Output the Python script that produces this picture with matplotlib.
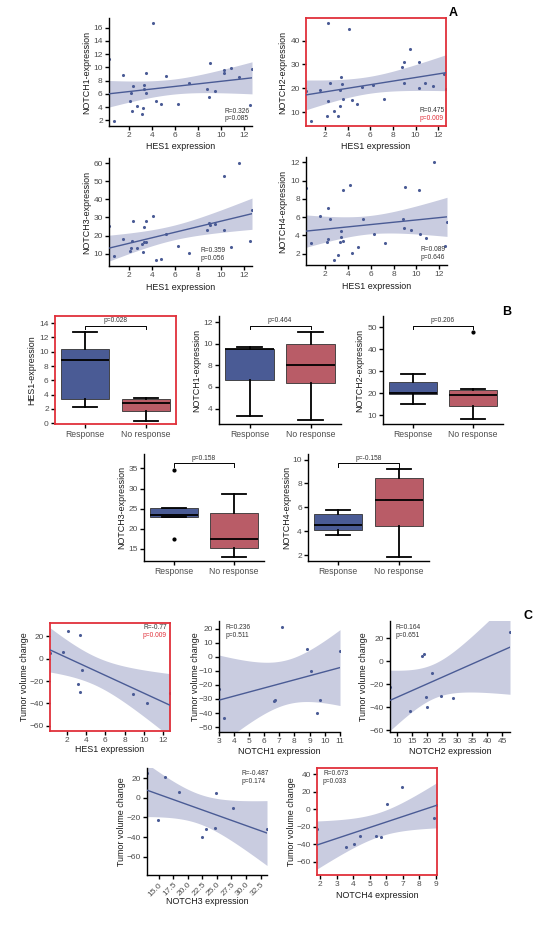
import numpy as np
import matplotlib
matplotlib.use('Agg')
import matplotlib.pyplot as plt
from matplotlib import transforms

plt.rcParams['font.family'] = ['Liberation Sans Narrow', 'Liberation Sans', 'DejaVu Sans']

W, H = 538, 949
BLUE = '#4a5b95'
BAND = '#c9cce0'
RED_BOX = '#b95c67'
RED = '#e0303a'
TICK_COL = '#4d4d4d'

# ---------------- panel A: gene expression vs HES1 (30 patients)
hes1 = [0.3, 0.75, 1.52, 2.12, 2.24, 2.27, 2.42, 2.77, 3.13, 3.28, 3.34, 3.37, 3.52, 3.55, 4.14,
        4.38, 4.83, 5.27, 6.26, 7.24, 8.82, 8.96, 9.02, 9.5, 10.27, 10.3, 10.87, 11.58, 12.5, 12.7]
notch1 = [11.2, 1.9, 8.9, 5.0, 6.2, 3.4, 7.2, 4.1, 3.0, 3.8, 7.3, 6.8, 9.2, 6.1, 16.7,
          5.0, 4.5, 8.7, 4.5, 7.7, 6.7, 5.6, 10.6, 6.5, 9.2, 9.6, 9.9, 8.5, 4.3, 9.8]
notch2 = [18.9, 6.2, 19.4, 8.3, 47.4, 14.8, 22.3, 10.4, 8.2, 19.2, 12.4, 24.8, 21.7, 15.5, 45.0,
          14.9, 13.4, 20.6, 21.2, 15.5, 28.7, 30.9, 22.1, 36.4, 30.8, 20.2, 22.1, 20.8, 25.8, 19.8]
notch3 = [25.0, 8.4, 18.3, 11.3, 13.1, 17.2, 28.1, 13.1, 15.1, 11.1, 24.9, 16.2, 28.3, 16.2, 30.7,
          6.7, 7.1, 20.9, 14.2, 10.4, 23.2, 26.8, 25.6, 26.5, 53.1, 22.9, 13.8, 60.2, 16.9, 34.3]
notch4 = [9.14, 3.2, 6.1, 3.23, 7.04, 3.63, 5.8, 1.28, 1.82, 3.3, 3.85, 4.5, 8.92, 3.34, 9.54,
          2.04, 2.76, 5.73, 4.17, 3.2, 5.77, 4.83, 9.32, 4.54, 8.96, 4.1, 3.7, 12.04, 2.87, 5.4]
a_r = ['R=0.326', 'R=0.475', 'R=0.359', 'R=0.089']
a_p = ['p=0.085', 'p=0.009', 'p=0.056', 'p=0.646']

# ---------------- panel B: box summaries (whisker low, q1, median, q3, whisker high)
groups = ['Response', 'No response']
b_genes = ['HES1', 'NOTCH1', 'NOTCH2', 'NOTCH3', 'NOTCH4']
resp_box = [[2.26, 3.37, 8.87, 10.4, 12.75],
            [3.31, 6.62, 9.5, 9.56, 9.72],
            [15.0, 19.8, 20.0, 25.2, 29.0],
            [22.85, 22.85, 23.4, 25.2, 25.2],
            [3.67, 4.11, 4.5, 5.42, 5.75]]
nores_box = [[0.32, 1.66, 2.77, 3.37, 3.6],
             [2.94, 6.34, 8.03, 9.97, 11.12],
             [8.3, 14.1, 19.1, 21.6, 22.1],
             [12.93, 15.33, 17.48, 23.84, 28.55],
             [1.83, 4.42, 6.58, 8.47, 9.17]]
resp_out = [[], [], [], [34.5, 17.4], []]
nores_out = [[], [], [47.7], [], []]
b_pvals = ['p=0.028', 'p=0.464', 'p=0.206', 'p=0.158', 'p=-0.158']

# ---------------- panel C: tumour volume change vs expression (10 patients)
c_hes1 = [0.26, 1.58, 2.1, 3.18, 3.35, 3.39, 3.56, 8.84, 10.3, 12.7]
c_tum_hes1 = [4.8, 6.0, 25.0, -22.2, 21.0, -29.7, -9.9, -31.5, -39.6, -30.3]
c_notch1 = [3.0, 3.32, 6.65, 6.74, 7.17, 8.81, 9.08, 9.49, 9.67, 11.02]
c_tum_notch1 = [-22.8, -43.4, -31.8, -30.4, 21.0, 5.3, -10.3, -39.8, -30.9, 4.3]
c_notch2 = [7.54, 14.36, 18.16, 18.8, 19.5, 19.8, 21.4, 24.4, 28.5, 47.5]
c_tum_notch2 = [-22.3, -43.5, 4.6, 5.8, -30.7, -40.0, -10.1, -30.4, -31.9, 25.4]
c_notch3 = [13.0, 14.9, 16.1, 18.45, 22.5, 23.1, 24.6, 24.8, 27.8, 33.6]
c_tum_notch3 = [25.1, -22.7, 20.6, 5.8, -40.0, -32.2, -30.5, 4.4, -10.5, -31.5]
c_notch4 = [1.8, 3.59, 4.04, 4.4, 5.36, 5.69, 6.03, 6.99, 8.88, 9.09]
c_tum_notch4 = [-22.9, -43.5, -39.7, -30.1, -30.5, -32.1, 5.8, 25.4, -10.2, 5.1]
c_r = ['R=-0.77', 'R=0.236', 'R=0.164', 'R=-0.487', 'R=0.673']
c_p = ['p=0.009', 'p=0.511', 'p=0.651', 'p=0.174', 'p=0.033']
c_ylims = [(-64.8, 32.1), (-53.5, 25.4), (-61.4, 34.8), (-78.6, 30.2), (-75.3, 47.2)]

T95 = {8: 2.306, 28: 2.048}

fig = plt.figure(figsize=(W / 100, H / 100), dpi=100)


def ax_at(x0, y0, x1, y1):
    return fig.add_axes([x0 / W, 1 - y1 / H, (x1 - x0) / W, (y1 - y0) / H])


def style(ax, red=False):
    for s in ax.spines.values():
        s.set_linewidth(1.0)
    if red:
        for s in ax.spines.values():
            s.set_color(RED)
            s.set_linewidth(1.3)
    else:
        ax.spines['top'].set_visible(False)
        ax.spines['right'].set_visible(False)
    ax.tick_params(length=3, width=1.0, color='black', labelsize=6, labelcolor=TICK_COL, pad=1.5)


def set_labels(ax, box, xlabel, ylabel, xl_y, yl_x):
    x0, y0, x1, y1 = box
    ax.set_xlabel(xlabel, fontsize=6.4, color='#1a1a1a')
    ax.set_ylabel(ylabel, fontsize=6.4, color='#1a1a1a')
    ax.xaxis.set_label_coords(0.5, (y1 - xl_y) / (y1 - y0))
    ax.xaxis.label.set_va('center')
    ax.yaxis.set_label_coords((yl_x - x0) / (x1 - x0), 0.5)
    ax.yaxis.label.set_va('center')


def fit_band(x, y):
    x = np.asarray(x, float)
    y = np.asarray(y, float)
    n = len(x)
    b, a = np.polyfit(x, y, 1)
    xs = np.linspace(x.min(), x.max(), 100)
    yh = a + b * xs
    s = np.sqrt(np.sum((y - (a + b * x)) ** 2) / (n - 2))
    se = s * np.sqrt(1 / n + (xs - x.mean()) ** 2 / np.sum((x - x.mean()) ** 2))
    t = T95[n - 2]
    return xs, yh, yh - t * se, yh + t * se


def scatter_panel(box, x, y, xlabel, ylabel, xticks, yticks, xl_y, yl_x,
                  rtxt, ptxt, txt_xy, red=False, pred=False, rot=False, ylim=None):
    ax = ax_at(*box)
    xs, yh, lo, hi = fit_band(x, y)
    ax.fill_between(xs, lo, hi, color=BAND, lw=0, zorder=1)
    ax.plot(xs, yh, color=BLUE, lw=1.0, zorder=3)
    ax.scatter(x, y, s=5, color=BLUE, zorder=2, linewidths=0)
    if ylim is None:
        ymin = min(min(y), lo.min())
        ymax = max(max(y), hi.max())
        pad = 0.05 * (ymax - ymin)
        ylim = (ymin - pad, ymax + pad)
    ax.set_xlim(min(x), max(x))
    ax.set_ylim(*ylim)
    ax.set_xticks(xticks)
    ax.set_yticks(yticks)
    if rot:
        ax.set_xticklabels(['%.1f' % v for v in xticks], rotation=45, ha='right',
                           rotation_mode='anchor')
    style(ax, red)
    set_labels(ax, box, xlabel, ylabel, xl_y, yl_x)
    tx, ty1, ty2 = txt_xy
    ax.text(tx, ty1, rtxt, transform=ax.transAxes, fontsize=4.8, color='#333333', va='center')
    ax.text(tx, ty2, ptxt, transform=ax.transAxes, fontsize=4.8,
            color=RED if pred else '#333333', va='center')
    return ax


# ---- panel A
a_boxes = [(109, 18, 252, 126), (306, 18, 446, 126), (109, 158, 252, 266), (306, 157, 447, 265)]
a_data = [notch1, notch2, notch3, notch4]
a_yticks = [range(2, 17, 2), range(10, 41, 10), range(10, 61, 10), range(2, 13, 2)]
a_xl_y = [147, 147, 287, 287]
a_yl_x = [87, 283, 87, 283]
a_txt = [(0.811, 0.13, 0.065), (0.814, 0.139, 0.074), (0.643, 0.148, 0.065), (0.81, 0.148, 0.065)]
for i in range(4):
    scatter_panel(a_boxes[i], hes1, a_data[i], 'HES1 expression', 'NOTCH%d-expression' % (i + 1),
                  range(2, 13, 2), a_yticks[i], a_xl_y[i], a_yl_x[i], a_r[i], a_p[i], a_txt[i],
                  red=(i == 1), pred=(i == 1))

# ---- panel B
b_boxes = [(55, 316, 176, 424), (219, 316, 341, 424), (383, 316, 503, 424),
           (144, 454, 264, 561), (308, 454, 429, 561)]
b_ylims = [(-0.1, 15.0), (2.56, 12.6), (6.1, 55.1), (12.0, 38.6), (1.53, 10.46)]
b_yticks = [range(0, 15, 2), range(4, 13, 2), range(10, 51, 10), range(15, 36, 5), range(2, 11, 2)]
b_yl_x = [32, 197, 360, 122, 287]
for i, g in enumerate(b_genes):
    box = b_boxes[i]
    ax = ax_at(*box)
    stats = []
    for lab, five, fl in zip(groups, [resp_box[i], nores_box[i]], [resp_out[i], nores_out[i]]):
        stats.append(dict(label=lab, whislo=five[0], q1=five[1], med=five[2], q3=five[3],
                          whishi=five[4], fliers=fl))
    art = ax.bxp(stats, positions=[1, 2], widths=0.8, capwidths=0.4, patch_artist=True,
                 boxprops=dict(edgecolor='#333333', lw=0.6),
                 medianprops=dict(color='black', lw=1.3),
                 whiskerprops=dict(color='black', lw=1.3),
                 capprops=dict(color='black', lw=1.3),
                 flierprops=dict(marker='o', ms=2, mfc='black', mec='black'))
    for patch, col in zip(art['boxes'], [BLUE, RED_BOX]):
        patch.set_facecolor(col)
    ax.set_xlim(0.5, 2.5)
    ax.set_ylim(*b_ylims[i])
    ax.set_yticks(b_yticks[i])
    style(ax, red=(i == 0))
    ax.tick_params(axis='x', labelsize=6.2)
    ax.set_ylabel(g + '-expression', fontsize=6.4, color='#1a1a1a')
    ax.yaxis.set_label_coords((b_yl_x[i] - box[0]) / (box[2] - box[0]), 0.5)
    ax.yaxis.label.set_va('center')
    tr = transforms.blended_transform_factory(ax.transData, ax.transAxes)
    ax.plot([1, 1, 2, 2], [0.875, 0.912, 0.912, 0.875], color='black', lw=0.7, transform=tr,
            clip_on=False)
    ax.text(1.5, 0.955, b_pvals[i], transform=tr, ha='center', va='center', fontsize=4.8,
            color='#333333')

# ---- panel C
c_boxes = [(50, 623, 170, 731), (219, 621, 340, 732), (390, 621, 510, 732),
           (147, 768, 267, 875), (317, 768, 437, 875)]
c_x = [c_hes1, c_notch1, c_notch2, c_notch3, c_notch4]
c_y = [c_tum_hes1, c_tum_notch1, c_tum_notch2, c_tum_notch3, c_tum_notch4]
c_xl = ['HES1 expression', 'NOTCH1 expression', 'NOTCH2 expression', 'NOTCH3 expression',
        'NOTCH4 expression']
c_xticks = [range(2, 13, 2), range(3, 12), range(10, 46, 5), np.arange(15, 33, 2.5), range(2, 10)]
c_yticks = [range(-60, 21, 20), range(-50, 21, 10), range(-60, 21, 20), range(-60, 21, 20),
            range(-60, 41, 20)]
c_xl_y = [750, 751, 751, 902, 895]
c_yl_x = [25, 195, 364, 122, 292]
c_txt = [(0.775, 0.954, 0.88), (0.053, 0.937, 0.865), (0.042, 0.937, 0.865),
         (0.785, 0.95, 0.872), (0.05, 0.95, 0.872)]
for i in range(5):
    scatter_panel(c_boxes[i], c_x[i], c_y[i], c_xl[i], 'Tumor volume change', c_xticks[i],
                  c_yticks[i], c_xl_y[i], c_yl_x[i], c_r[i], c_p[i], c_txt[i],
                  red=(i in (0, 4)), pred=(i == 0), rot=(i == 3), ylim=c_ylims[i])

fig.text(453 / W, 1 - 13 / H, 'A', fontsize=9, fontweight='bold', ha='center', va='center')
fig.text(507 / W, 1 - 312 / H, 'B', fontsize=9, fontweight='bold', ha='center', va='center')
fig.text(528 / W, 1 - 616 / H, 'C', fontsize=9, fontweight='bold', ha='center', va='center')

fig.savefig('out.png', dpi=100)
